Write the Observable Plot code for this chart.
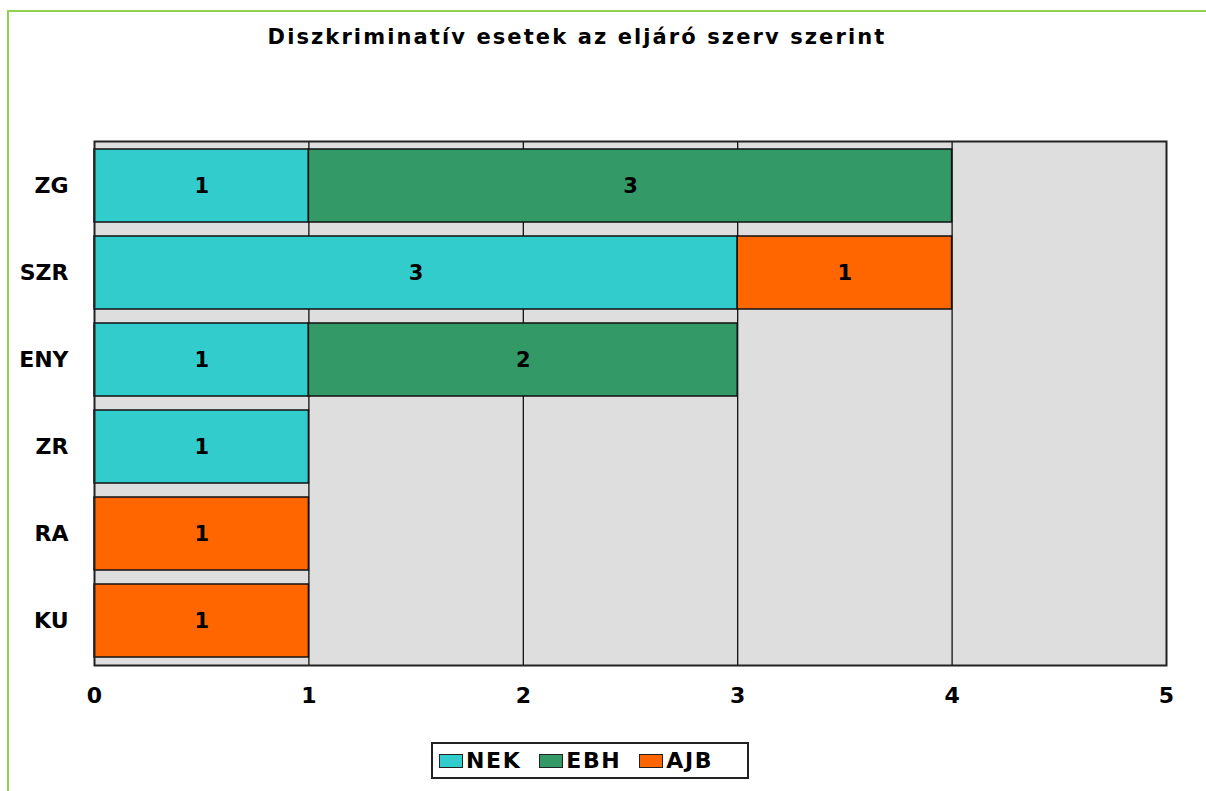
<!DOCTYPE html>
<html>
<head>
<meta charset="utf-8">
<script src="https://cdn.jsdelivr.net/npm/d3@7"></script>
<script src="https://cdn.jsdelivr.net/npm/@observablehq/plot@0.6"></script>
<style>
  body { margin: 0; background: #fff; font-family: "DejaVu Sans", Verdana, sans-serif; }
  #wrap { position: relative; width: 1206px; height: 791px; overflow: hidden; }
  #border { position: absolute; left: 7px; top: 10px; width: 1210px; height: 800px;
            border-left: 2px solid #92d050; border-top: 2px solid #92d050; }
  #title { position: absolute; top: 25px; left: 0; width: 1154px; text-align: center;
           font-weight: bold; font-size: 21px; color: #000; letter-spacing: 2.1px; }
  #chart { position: absolute; left: 0; top: 100px; }
  #legend { position: absolute; left: 431px; top: 742px; width: 314px; height: 33px;
            border: 2px solid #222; display: flex; align-items: center;
            font-weight: bold; font-size: 22px; letter-spacing: 1.6px; box-sizing: content-box; }
  .item { display: flex; align-items: center; margin-left: 6px; margin-right: 12px; }
  .sw { width: 22px; height: 12px; border: 1.5px solid #222; margin-right: 3px; }
</style>
</head>
<body>
<div id="wrap">
  <div id="border"></div>
  <div id="title">Diszkriminatív esetek az eljáró szerv szerint</div>
  <div id="chart"></div>
  <div id="legend"></div>
</div>
<script>
const categories = ["ZG", "SZR", "ENY", "ZR", "RA", "KU"];
const seriesNames = ["NEK", "EBH", "AJB"];
const seriesColors = ["#33CCCC", "#339966", "#FF6600"];
const NEK = [1, 3, 1, 1, 0, 0];
const EBH = [3, 0, 2, 0, 0, 0];
const AJB = [0, 1, 0, 0, 1, 1];
const xTicks = [0, 1, 2, 3, 4, 5];
const gridLines = [1, 2, 3, 4];

const seriesValues = [NEK, EBH, AJB];
const data = [];
seriesNames.forEach((s, si) => {
  categories.forEach((c, ci) => {
    const v = seriesValues[si][ci];
    if (v > 0) data.push({cat: c, series: s, value: v});
  });
});

const chart = Plot.plot({
  width: 1206,
  height: 620,
  marginTop: 41,
  marginBottom: 55,
  marginLeft: 94,
  marginRight: 40,
  style: {fontFamily: "'DejaVu Sans', Verdana, sans-serif", fontSize: "22px", fontWeight: "bold", color: "#000", background: "transparent"},
  x: {domain: [0, 5], ticks: xTicks, tickFormat: d => String(d), label: null, tickSize: 0, tickPadding: 22},
  y: {domain: categories, label: null, tickSize: 0, tickPadding: 26, paddingInner: 0.16, paddingOuter: 0.08},
  color: {domain: seriesNames, range: seriesColors},
  marks: [
    Plot.frame({fill: "#dedede", stroke: null}),
    Plot.ruleX(gridLines, {stroke: "#000", strokeWidth: 1.2}),
    Plot.barX(data, Plot.stackX({x: "value", y: "cat", fill: "series", stroke: "#111", strokeWidth: 1.5, inset: 0})),
    Plot.text(data, Plot.stackX({x: "value", y: "cat", text: d => String(d.value), fill: "#000", fontSize: 21, fontWeight: "bold"})),
    Plot.frame({stroke: "#222", strokeWidth: 2})
  ]
});
document.getElementById("chart").appendChild(chart);

const legend = document.getElementById("legend");
seriesNames.forEach((s, i) => {
  const item = document.createElement("div");
  item.className = "item";
  const sw = document.createElement("div");
  sw.className = "sw";
  sw.style.background = seriesColors[i];
  const t = document.createElement("span");
  t.textContent = s;
  item.appendChild(sw);
  item.appendChild(t);
  legend.appendChild(item);
});
</script>
</body>
</html>
